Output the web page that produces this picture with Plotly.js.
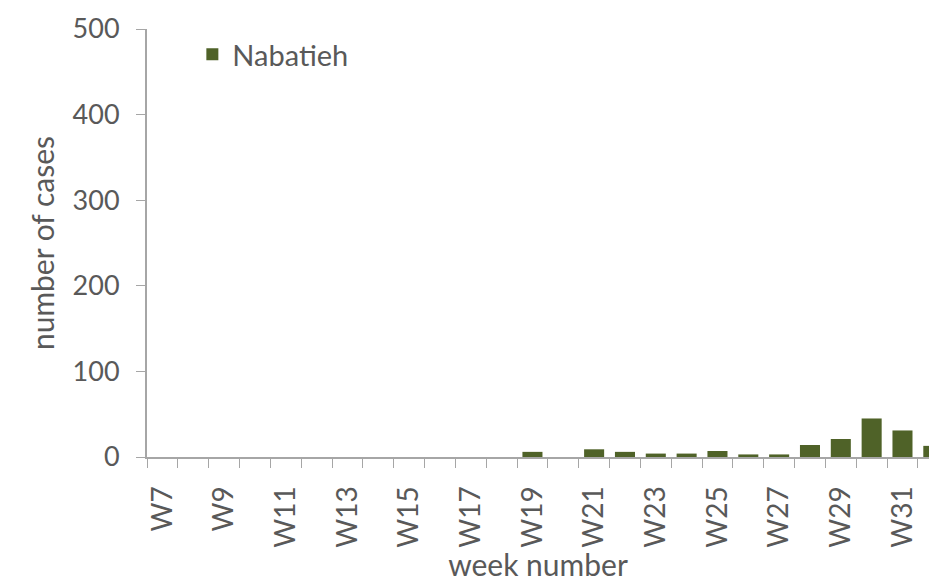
<!DOCTYPE html>
<html>
<head>
<meta charset="utf-8">
<script src="https://cdn.plot.ly/plotly-3.0.1.min.js"></script>
<style>html,body{margin:0;padding:0;background:#fff;}#chart{width:929px;height:582px;}</style>
</head>
<body>
<div id="chart"></div>
<script>
const weeks = ['W7','W8','W9','W10','W11','W12','W13','W14','W15','W16','W17','W18','W19','W20','W21','W22','W23','W24','W25','W26','W27','W28','W29','W30','W31','W32'];
const nabatieh = [0,0,0,0,0,0,0,0,0,0,0,0,6,0,9,6,4,4,7,3,3,14,21,45,31,13];
const tickLabels = ['W7','','W9','','W11','','W13','','W15','','W17','','W19','','W21','','W23','','W25','','W27','','W29','','W31',''];
const seriesName = 'Nabatieh';

const textColor = '#595959';
const fontFam = 'Lato, "Open Sans", sans-serif';

Plotly.newPlot('chart', [{
  type: 'bar',
  x: weeks,
  y: nabatieh,
  name: seriesName,
  marker: {color: '#4f6228'},
  showlegend: true
}], {
  width: 929, height: 582,
  margin: {l: 147, r: 0, t: 29, b: 125},
  paper_bgcolor: '#fff', plot_bgcolor: '#fff',
  bargap: 0.35,
  font: {family: fontFam, color: textColor, size: 26},
  xaxis: {
    type: 'category',
    range: [-0.5, 24.86],
    tickmode: 'array', tickvals: weeks, ticktext: tickLabels,
    tickson: 'boundaries',
    ticks: 'outside', ticklen: 9, tickcolor: '#a6a6a6',
    tickangle: -90,
    ticklabelstandoff: 16,
    showline: true, linecolor: '#a6a6a6', linewidth: 2,
    showgrid: false, zeroline: false,
    tickfont: {size: 28, color: textColor, family: fontFam},
    title: {text: 'week number', font: {size: 30, color: textColor, family: fontFam}, standoff: 12}
  },
  yaxis: {
    range: [0, 500],
    tickvals: [0, 100, 200, 300, 400, 500],
    ticks: 'outside', ticklen: 9, tickcolor: '#a6a6a6',
    showline: true, linecolor: '#a6a6a6', linewidth: 2,
    showgrid: false, zeroline: false,
    tickfont: {size: 27, color: textColor, family: fontFam},
    ticklabelstandoff: 11,
    title: {text: 'number of cases', font: {size: 30, color: textColor, family: fontFam}, standoff: 9}
  },
  legend: {
    x: 0.058, y: 1.0, xanchor: 'left', yanchor: 'top',
    bgcolor: 'rgba(0,0,0,0)',
    font: {size: 29, color: textColor, family: fontFam}
  }
}, {displayModeBar: false, staticPlot: true});
</script>
</body>
</html>
